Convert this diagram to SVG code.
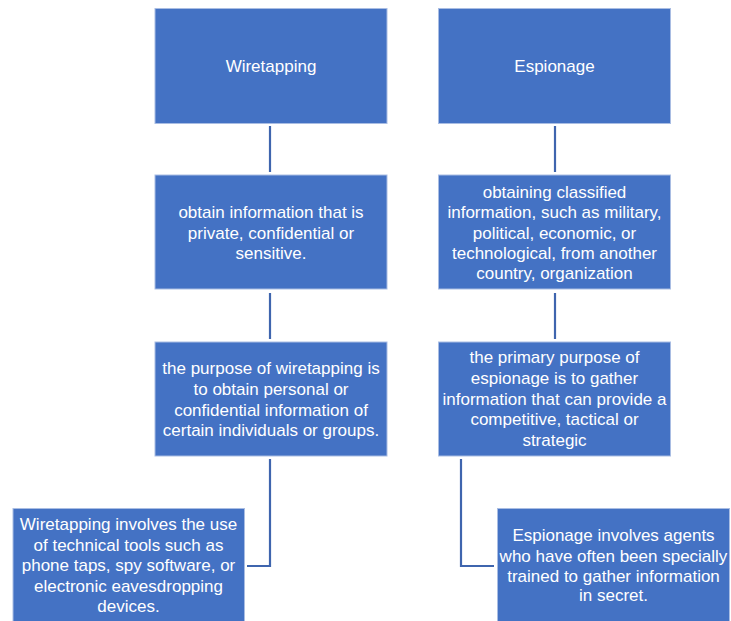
<svg xmlns="http://www.w3.org/2000/svg" width="731" height="621" viewBox="0 0 731 621">
<style>
.box{fill:#4472C4;stroke:#A9BDE3;stroke-width:1}
.t{fill:#FFFFFF;font-family:"Liberation Sans","Noto Sans",sans-serif;font-size:17px;text-anchor:middle}
.c{fill:none;stroke:#3F65AE;stroke-width:2.2}
</style>
<rect width="731" height="621" fill="#FFFFFF"/>
<g id="connectors">
<line class="c" x1="270" y1="126" x2="270" y2="172"/>
<line class="c" x1="270" y1="293" x2="270" y2="339"/>
<polyline class="c" points="270,459 270,566 247,566"/>
<line class="c" x1="555" y1="126" x2="555" y2="172"/>
<line class="c" x1="555" y1="293" x2="555" y2="339"/>
<polyline class="c" points="461,459 461,566 494,566"/>
</g>
<g id="n1">
<rect class="box" x="155" y="8.5" width="232" height="115"/>
<text class="t" x="271" y="72">Wiretapping</text>
</g>
<g id="n2">
<rect class="box" x="438.5" y="8.5" width="232" height="115"/>
<text class="t" x="554.5" y="72">Espionage</text>
</g>
<g id="n3">
<rect class="box" x="155" y="175" width="232" height="114"/>
<text class="t" x="271" y="218">obtain information that is</text>
<text class="t" x="271" y="238.5">private, confidential or</text>
<text class="t" x="271" y="259">sensitive.</text>
</g>
<g id="n4">
<rect class="box" x="438.5" y="175" width="232" height="114"/>
<text class="t" x="554.5" y="197.5">obtaining classified</text>
<text class="t" x="554.5" y="218">information, such as military,</text>
<text class="t" x="554.5" y="238.5">political, economic, or</text>
<text class="t" x="554.5" y="259">technological, from another</text>
<text class="t" x="554.5" y="279">country, organization</text>
</g>
<g id="n5">
<rect class="box" x="155" y="342" width="232" height="114"/>
<text class="t" x="271" y="374">the purpose of wiretapping is</text>
<text class="t" x="271" y="395">to obtain personal or</text>
<text class="t" x="271" y="415.5">confidential information of</text>
<text class="t" x="271" y="436">certain individuals or groups.</text>
</g>
<g id="n6">
<rect class="box" x="438.5" y="342" width="232" height="114"/>
<text class="t" x="554.5" y="363">the primary purpose of</text>
<text class="t" x="554.5" y="384">espionage is to gather</text>
<text class="t" x="554.5" y="404.5">information that can provide a</text>
<text class="t" x="554.5" y="425">competitive, tactical or</text>
<text class="t" x="554.5" y="445.5">strategic</text>
</g>
<g id="n7">
<rect class="box" x="13" y="508.5" width="231.5" height="116"/>
<text class="t" x="128.5" y="530">Wiretapping involves the use</text>
<text class="t" x="128.5" y="550.5">of technical tools such as</text>
<text class="t" x="128.5" y="571">phone taps, spy software, or</text>
<text class="t" x="128.5" y="592">electronic eavesdropping</text>
<text class="t" x="128.5" y="612">devices.</text>
</g>
<g id="n8">
<rect class="box" x="497.5" y="508.5" width="232" height="116"/>
<text class="t" x="613.5" y="541">Espionage involves agents</text>
<text class="t" x="613.5" y="561.5">who have often been specially</text>
<text class="t" x="613.5" y="582">trained to gather information</text>
<text class="t" x="613.5" y="601">in secret.</text>
</g>
</svg>
